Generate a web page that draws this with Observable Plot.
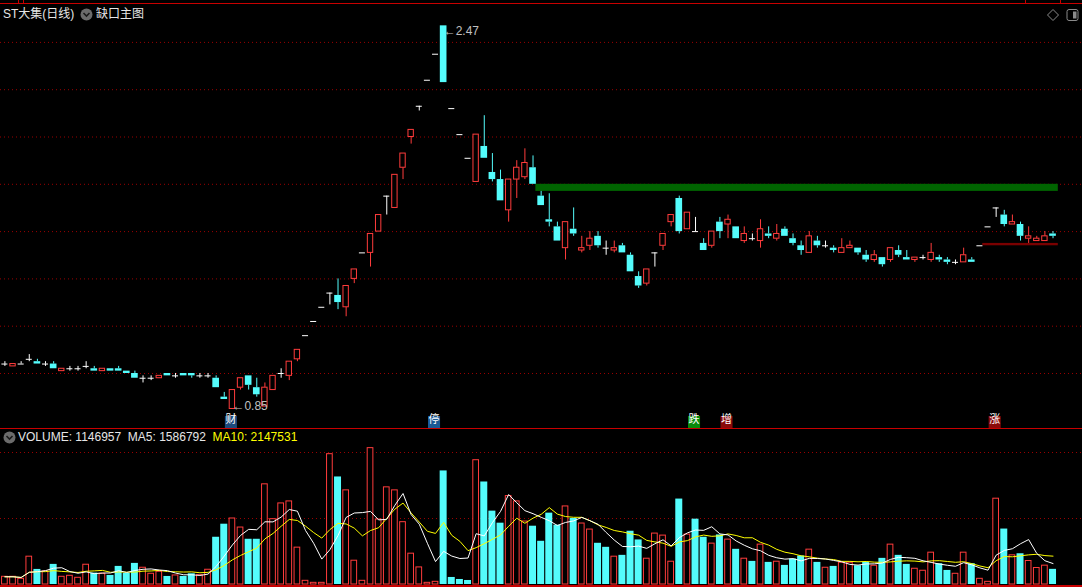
<!DOCTYPE html>
<html><head><meta charset="utf-8">
<script src="https://cdn.jsdelivr.net/npm/d3@7"></script>
<script src="https://cdn.jsdelivr.net/npm/@observablehq/plot@0.6"></script>
<style>
html,body{margin:0;padding:0;background:#000;}
#wrap{position:relative;width:1082px;height:587px;background:#000;overflow:hidden;font-family:"Liberation Sans","Noto Sans CJK SC",sans-serif;font-size:12px;color:#e6e6e6;}
#price{position:absolute;left:0;top:0;}
#vol{position:absolute;left:0;top:428px;}
.hl{position:absolute;background:#c80000;}
.t{position:absolute;white-space:nowrap;line-height:14px;}
.ic{position:absolute;}
</style></head><body>
<div id="wrap">
  <div id="price"></div>
  <div id="vol"></div>
  <div class="hl" style="left:0;top:3px;width:1082px;height:1px"></div>
  <div class="hl" style="left:18px;top:0;width:1px;height:4px"></div>
  <div class="hl" style="left:23px;top:0;width:1px;height:4px"></div>
  <div class="hl" style="left:1025px;top:0;width:1px;height:4px"></div>
  <div class="hl" style="left:1060px;top:0;width:1px;height:4px"></div>
  <div class="hl" style="left:0;top:428px;width:1082px;height:1px"></div>
  <div class="hl" style="left:0;top:585px;width:1082px;height:2px"></div>
  <div class="t" id="title" style="left:3px;top:7px"></div>
  <svg class="ic" style="left:80px;top:8px" width="13" height="13"><circle cx="6.5" cy="6.5" r="6" fill="#6b6b6b"/><path d="M3.5 5 L6.5 8 L9.5 5" stroke="#1a1a1a" stroke-width="1.6" fill="none"/></svg>
  <div class="t" id="subtitle" style="left:96px;top:7px"></div>
  <svg class="ic" style="left:1046px;top:8px" width="14" height="14"><path d="M7 1.5 L12.5 7 L7 12.5 L1.5 7 Z" stroke="#8a8a8a" fill="none"/></svg>
  <svg class="ic" style="left:1066px;top:8px" width="14" height="14"><rect x="1" y="1.5" width="11" height="11" rx="2" stroke="#8a8a8a" fill="none"/><rect x="7" y="3.5" width="3.5" height="7" fill="#8a8a8a"/></svg>
  <svg class="ic" style="left:3px;top:431px" width="13" height="13"><circle cx="6.5" cy="6.5" r="6" fill="#6b6b6b"/><path d="M3.5 5 L6.5 8 L9.5 5" stroke="#1a1a1a" stroke-width="1.6" fill="none"/></svg>
  <div class="t" id="volhead" style="left:18px;top:430px"></div>
</div>
<script>
// ---------------- data ----------------
const stockName = "ST大集(日线)";
const indicatorName = "缺口主图";
const open  = [1.04,1.03,1.04,1.06,1.05,1.04,1.04,1.01,1.02,1.02,1.03,1.02,1.01,1.02,1.02,1.01,1.00,0.98,0.98,0.98,
               1.00,0.99,1.00,1.00,0.99,0.99,0.98,0.90,0.85,0.94,0.99,0.94,0.86,0.93,1.00,0.99,1.06,1.16,1.22,1.28,
               1.34,1.33,1.28,1.40,1.51,1.51,1.60,1.75,1.70,1.87,2.00,2.13,2.24,2.35,2.47,2.12,2.01,1.91,1.81,1.96,
               1.85,1.82,1.69,1.82,1.83,1.87,1.75,1.65,1.62,1.53,1.61,1.52,1.54,1.58,1.53,1.52,1.54,1.50,1.41,1.38,
               1.51,1.54,1.64,1.74,1.61,1.60,1.55,1.54,1.64,1.63,1.62,1.56,1.57,1.56,1.59,1.57,1.61,1.57,1.54,1.51,
               1.56,1.54,1.53,1.51,1.53,1.53,1.50,1.48,1.49,1.48,1.52,1.49,1.48,1.49,1.48,1.49,1.48,1.47,1.47,1.48,
               1.54,1.62,1.70,1.67,1.63,1.63,1.57,1.56,1.56,1.59];
const high  = [1.05,1.04,1.05,1.08,1.06,1.05,1.05,1.02,1.03,1.03,1.05,1.03,1.02,1.02,1.03,1.01,1.01,0.99,0.99,0.99,
               1.00,1.00,1.00,1.00,1.00,1.00,0.99,0.92,0.93,0.98,0.99,0.98,0.96,0.99,1.02,1.05,1.10,1.16,1.22,1.28,
               1.34,1.40,1.37,1.44,1.51,1.59,1.67,1.75,1.84,1.93,2.03,2.13,2.24,2.35,2.47,2.12,2.01,1.91,2.01,2.09,
               1.93,1.86,1.82,1.90,1.95,1.92,1.77,1.76,1.64,1.64,1.70,1.58,1.60,1.60,1.56,1.56,1.55,1.51,1.43,1.44,
               1.51,1.59,1.67,1.75,1.68,1.66,1.57,1.60,1.66,1.67,1.62,1.62,1.59,1.65,1.62,1.63,1.62,1.59,1.56,1.60,
               1.58,1.56,1.54,1.57,1.56,1.53,1.52,1.52,1.49,1.53,1.54,1.52,1.49,1.50,1.55,1.50,1.49,1.48,1.53,1.49,
               1.54,1.62,1.70,1.69,1.67,1.64,1.62,1.58,1.60,1.60];
const low   = [1.03,1.03,1.04,1.05,1.04,1.03,1.02,1.01,1.01,1.01,1.02,1.01,1.01,1.01,1.01,1.00,0.98,0.96,0.97,0.98,
               0.99,0.98,0.99,0.98,0.98,0.98,0.94,0.89,0.85,0.93,0.93,0.90,0.86,0.93,0.98,0.97,1.05,1.16,1.22,1.28,
               1.29,1.27,1.24,1.38,1.51,1.45,1.60,1.67,1.70,1.82,1.97,2.11,2.24,2.35,2.23,2.12,2.01,1.91,1.81,1.91,
               1.81,1.73,1.64,1.74,1.82,1.80,1.71,1.62,1.56,1.48,1.58,1.51,1.52,1.53,1.50,1.51,1.51,1.43,1.36,1.37,
               1.45,1.52,1.62,1.59,1.61,1.60,1.52,1.53,1.57,1.57,1.57,1.55,1.56,1.53,1.57,1.56,1.58,1.54,1.50,1.51,
               1.53,1.53,1.51,1.51,1.53,1.50,1.47,1.47,1.45,1.47,1.49,1.48,1.47,1.48,1.47,1.47,1.46,1.46,1.47,1.47,
               1.54,1.62,1.66,1.62,1.63,1.56,1.55,1.56,1.56,1.57];
const close = [1.04,1.04,1.04,1.06,1.04,1.04,1.02,1.02,1.02,1.02,1.03,1.01,1.02,1.01,1.01,1.00,0.98,0.98,0.98,0.99,
               0.99,0.99,0.99,0.99,0.99,0.99,0.94,0.89,0.93,0.98,0.95,0.91,0.94,0.99,1.00,1.05,1.10,1.16,1.22,1.28,
               1.34,1.30,1.37,1.44,1.51,1.59,1.67,1.75,1.84,1.93,2.03,2.13,2.24,2.35,2.23,2.12,2.01,1.91,2.01,1.91,
               1.82,1.73,1.82,1.87,1.89,1.80,1.71,1.64,1.56,1.64,1.59,1.53,1.57,1.54,1.53,1.53,1.51,1.43,1.37,1.44,
               1.51,1.59,1.67,1.60,1.68,1.60,1.52,1.60,1.60,1.65,1.57,1.59,1.57,1.61,1.58,1.59,1.58,1.55,1.52,1.58,
               1.54,1.54,1.52,1.53,1.54,1.51,1.48,1.50,1.46,1.53,1.50,1.48,1.49,1.49,1.51,1.48,1.47,1.47,1.50,1.47,
               1.54,1.62,1.70,1.63,1.64,1.58,1.58,1.57,1.58,1.58];
const volume = [584000,584000,431000,2107000,1142000,990000,1523000,584000,660000,508000,
                1497000,863000,812000,685000,1371000,838000,1599000,1269000,812000,964000,
                609000,685000,609000,812000,711000,1117000,3579000,4568000,5000000,4315000,
                3426000,3426000,7589000,4949000,6142000,6294000,2792000,279000,127000,127000,
                9873000,8147000,7132000,1802000,279000,10330000,4924000,7360000,7132000,4721000,
                2335000,1294000,127000,203000,8604000,533000,381000,305000,9416000,7766000,
                5558000,4645000,6700000,6294000,4771000,4416000,3274000,5406000,4492000,5914000,
                5000000,4619000,4162000,3122000,2817000,2107000,2208000,4035000,3376000,1954000,
                3858000,3705000,1726000,6472000,3782000,4949000,3579000,3096000,3756000,3401000,
                2665000,1954000,1751000,3020000,1675000,1726000,1447000,1929000,2157000,2640000,
                1675000,1269000,1371000,1650000,1650000,1421000,1675000,1421000,1980000,3020000,
                2208000,1523000,1193000,1041000,2411000,1574000,1066000,812000,2411000,1574000,
                430000,201350,6500000,4200000,2210000,2330000,1780000,1250000,1427003,1146957];
const priceTicks  = [1.0,1.2,1.4,1.6,1.8,2.0,2.2,2.4];
const volumeTicks = [5000000,10000000];
const markerText  = ["财","停","跌","增","涨"];
const markerIndex = [28,53,85,89,122];
const gapFrom = [65,120];
const gapLow  = [1.77,1.54];
const gapHigh = [1.80,1.55];

// ---------------- styles ----------------
const RED = "#ff3c3c", CYAN = "#54fcfc", WHITE = "#ffffff", GRID = "#9a0000";
const gapColor = ["#006400","#7a0000"];
const markerColor = {"财":"#1c4a7c","停":"#1a5a96","跌":"#0a8a0a","增":"#8a0a0a","涨":"#8a0a0a"};
const W = 1082, STEP = 8.125, X0 = 4.4;
const xDomain = [-X0/STEP, (W - X0)/STEP];
const font = '"Liberation Sans","Noto Sans CJK SC",sans-serif';

const n = close.length;
const rows = d3.range(n).map(i => ({i, o: open[i], h: high[i], l: low[i], c: close[i], v: volume[i],
  pc: i ? close[i-1] : open[i]}));
const up = d => d.c > d.o, down = d => d.c < d.o, flat = d => d.c === d.o;
const volUp = d => d.c > d.o || (d.c === d.o && d.c >= d.pc);

const gaps = gapFrom.map((f, k) => ({f, lo: gapLow[k], hi: gapHigh[k], color: gapColor[k]}));
const iMax = d3.maxIndex(high), iMin = d3.minIndex(low);

function wicks(filter, color) {
  return [
    Plot.ruleX(rows, {filter, x: "i", y1: "h", y2: d => Math.max(d.o, d.c), stroke: color}),
    Plot.ruleX(rows, {filter, x: "i", y1: d => Math.min(d.o, d.c), y2: "l", stroke: color})
  ];
}

const price = Plot.plot({
  width: W, height: 428, margin: 0,
  x: {type: "linear", domain: xDomain, axis: null},
  y: {domain: [0.76744, 2.57717], axis: null},
  style: {background: "transparent", fontFamily: font, fontSize: "12px", overflow: "visible"},
  marks: [
    Plot.ruleY(priceTicks, {stroke: GRID, strokeDasharray: "1,3"}),
    ...gaps.map(g => Plot.rect([g], {x1: d => d.f + 0.35, x2: n - 1 + 0.65, y1: "lo", y2: "hi", fill: g.color})),
    ...wicks(up, RED), ...wicks(down, CYAN), ...wicks(flat, WHITE),
    Plot.rect(rows, {filter: up, x1: d => d.i - 0.33, x2: d => d.i + 0.33, y1: "o", y2: "c", fill: "#000", stroke: RED}),
    Plot.rect(rows, {filter: down, x1: d => d.i - 0.41, x2: d => d.i + 0.41, y1: "o", y2: "c", fill: CYAN}),
    Plot.ruleY(rows, {filter: flat, y: "c", x1: d => d.i - 0.37, x2: d => d.i + 0.37, stroke: WHITE}),
    Plot.text([iMax], {x: d => d, y: d => high[d], text: d => "←" + high[d].toFixed(2), textAnchor: "start", dy: 5, fill: "#c0c0c0", fontSize: 12}),
    Plot.text([iMin], {x: d => d, y: d => low[d], text: d => "←" + low[d].toFixed(2), textAnchor: "start", dy: -2.5, fill: "#c0c0c0", fontSize: 12}),
    ...markerText.map((t, k) => Plot.dot([markerIndex[k]], {x: d => d, frameAnchor: "bottom", dy: -6.5, dx: -1.5, symbol: "square", r: 6.8, fill: markerColor[t]})),
    Plot.text(markerIndex, {x: d => d, text: (d, k) => markerText[k], frameAnchor: "bottom", dy: -6, dx: -1.5, fill: WHITE, fontSize: 11, fontFamily: '"Noto Sans CJK SC",sans-serif'})
  ]
});
document.getElementById("price").appendChild(price);

const vol = Plot.plot({
  width: W, height: 159, margin: 0,
  x: {type: "linear", domain: xDomain, axis: null},
  y: {domain: [-5e6*3/66, 5e6*156/66], axis: null},
  style: {background: "transparent", overflow: "visible"},
  marks: [
    Plot.ruleY(volumeTicks, {stroke: GRID, strokeDasharray: "1,3"}),
    Plot.rect(rows, {filter: volUp, x1: d => d.i - 0.35, x2: d => d.i + 0.35, y1: 0, y2: "v", fill: "#000", stroke: RED}),
    Plot.rect(rows, {filter: d => !volUp(d), x1: d => d.i - 0.43, x2: d => d.i + 0.43, y1: 0, y2: "v", fill: CYAN}),
    Plot.lineY(rows, Plot.windowY({k: 10, anchor: "end"}, {x: "i", y: "v", stroke: "#ffff00", strokeWidth: 1})),
    Plot.lineY(rows, Plot.windowY({k: 5, anchor: "end"}, {x: "i", y: "v", stroke: WHITE, strokeWidth: 1}))
  ]
});
document.getElementById("vol").appendChild(vol);

document.getElementById("title").textContent = stockName;
document.getElementById("subtitle").textContent = indicatorName;
const ma5 = Math.round(d3.mean(volume.slice(-5))), ma10 = Math.round(d3.mean(volume.slice(-10)));
document.getElementById("volhead").innerHTML =
  `VOLUME: ${volume[n-1]}&nbsp; MA5: ${ma5}&nbsp; <span style="color:#ffff00">MA10: ${ma10}</span>`;
</script>
</body></html>
